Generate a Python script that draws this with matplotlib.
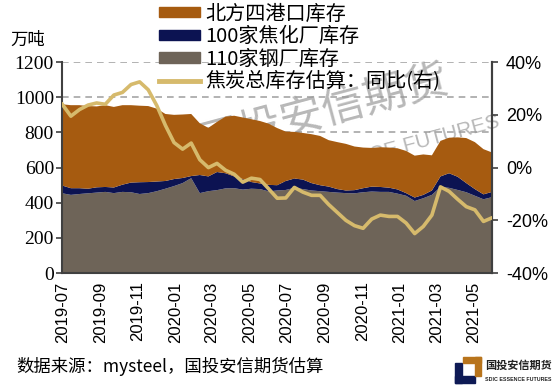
import numpy as np
import pandas as pd
import matplotlib
matplotlib.use('Agg')
import matplotlib.pyplot as plt
import matplotlib.dates as mdates
from matplotlib.patches import Patch, Rectangle
from matplotlib.lines import Line2D
from matplotlib.ticker import FuncFormatter

plt.rcParams['font.family'] = ['Noto Sans CJK SC', 'DejaVu Sans']

# biweekly dates
dates = pd.date_range('2019-07-01', periods=51, freq='14D')

# total stock (top of the stack), 万吨
total = [960, 955, 955, 950, 948, 955, 945, 955, 955, 952,
         950, 935, 905, 900, 902, 905, 852, 826, 860, 890,
         895, 885, 875, 865, 850, 825, 805, 803, 797, 790,
         780, 756, 745, 735, 720, 714, 712, 716, 714, 710,
         695, 668, 675, 670, 752, 770, 772, 768, 745, 705, 686]
# steel mills + coking plants
mills_coke = [498, 483, 483, 480, 488, 490, 487, 503, 515, 517,
              518, 521, 524, 535, 541, 552, 558, 550, 575, 568,
              550, 535, 518, 510, 502, 500, 524, 538, 532, 512,
              500, 492, 478, 470, 472, 483, 492, 490, 486, 476,
              455, 430, 445, 470, 550, 568, 548, 512, 478, 448, 462]
# 110 steel mills
mills = [454, 445, 450, 454, 458, 462, 455, 462, 460, 450,
         455, 466, 480, 495, 512, 540, 455, 466, 472, 482,
         483, 475, 480, 478, 465, 470, 473, 485, 478, 470,
         466, 462, 458, 455, 454, 460, 464, 462, 462, 452,
         440, 410, 426, 445, 490, 485, 473, 460, 440, 420, 432]
# total stock yoy, %
yoy = [24.0, 19.5, 22.0, 23.7, 24.5, 24.0, 27.5, 28.5, 31.5, 32.5,
       29.5, 23.5, 16.0, 9.5, 7.0, 9.3, 3.0, 0.0, 1.6, -1.0,
       -2.5, -5.5, -4.0, -4.5, -8.0, -11.6, -11.5, -7.5, -9.3, -10.5,
       -10.5, -14.0, -17.0, -20.0, -22.0, -23.0, -19.5, -18.0, -18.5, -18.5,
       -21.0, -25.0, -22.3, -18.0, -7.3, -9.0, -12.0, -14.8, -16.0, -20.4, -19.0]

mills = np.array(mills)
coke = np.array(mills_coke) - mills
port = np.array(total) - np.array(mills_coke)
yoy = np.array(yoy) / 100

c_port = '#A65B10'
c_coke = '#0C1352'
c_mill = '#6E6458'
c_line = '#D6BA6C'
c_axis = '#404040'

fig = plt.figure(figsize=(5.56, 3.88), dpi=100)
ax = fig.add_axes([0.112, 0.296, 0.773, 0.544])

# watermark, behind the data
ax.text(0.58, 0.712, '国投安信期货', transform=fig.transFigure, fontsize=31,
        color='#9A9A9A', alpha=0.7, rotation=15, ha='center', va='center', zorder=1)
ax.text(0.672, 0.6, 'SDIC ESSENCE FUTURES', transform=fig.transFigure, fontsize=15,
        color='#9A9A9A', alpha=0.7, rotation=15, ha='center', va='center',
        family='Liberation Sans', zorder=1)

ax.stackplot(dates, mills, coke, port, colors=[c_mill, c_coke, c_port], zorder=2)
ax.set_ylim(0, 1200)
ax.set_yticks(range(0, 1201, 200))
ax.set_xlim(dates[0], dates[-1])
ax.yaxis.grid(True, color='#A6A6A6', linestyle=(0, (4, 3)), linewidth=1.2, zorder=0)
ax.set_axisbelow(True)

ax.xaxis.set_major_locator(mdates.MonthLocator(bymonth=[1, 3, 5, 7, 9, 11]))
ax.xaxis.set_major_formatter(mdates.DateFormatter('%Y-%m'))
for lab in ax.get_xticklabels():
    lab.set_rotation(90)
    lab.set_family('Liberation Sans')
    lab.set_fontsize(12)
ax.tick_params(axis='x', length=0, pad=6)
for lab in ax.get_yticklabels():
    lab.set_family('Liberation Serif')
    lab.set_fontsize(14)
ax.tick_params(axis='y', length=4, width=1.2, color=c_axis, pad=2)

ax.spines['top'].set_visible(False)
for s in ['left', 'bottom', 'right']:
    ax.spines[s].set_color(c_axis)
    ax.spines[s].set_linewidth(1.5)

ax2 = ax.twinx()
ax2.plot(dates, yoy, color=c_line, linewidth=2.6, zorder=5)
ax2.set_ylim(-0.4, 0.4)
ax2.set_yticks([-0.4, -0.2, 0, 0.2, 0.4])
ax2.yaxis.set_major_formatter(FuncFormatter(lambda v, p: f'{v*100:.0f}%'))
for lab in ax2.get_yticklabels():
    lab.set_family('Liberation Sans')
    lab.set_fontsize(13)
ax2.tick_params(axis='y', length=4, width=1.2, color=c_axis, pad=6)
ax2.spines['top'].set_visible(False)
ax2.spines['right'].set_color(c_axis)
ax2.spines['right'].set_linewidth(1.5)
ax2.spines['left'].set_visible(False)
ax2.spines['bottom'].set_visible(False)

handles = [Patch(color=c_port), Patch(color=c_coke), Patch(color=c_mill),
           Line2D([], [], color=c_line, linewidth=3.5)]
labels = ['北方四港口库存', '100家焦化厂库存', '110家钢厂库存', '焦炭总库存估算：同比(右)']
fig.legend(handles, labels, loc='upper left', bbox_to_anchor=(0.272, 1.012),
           frameon=False, fontsize=14.5, handlelength=2.0, handleheight=0.4,
           handletextpad=0.3, labelspacing=0.08, borderaxespad=0)

fig.text(0.018, 0.885, '万吨', fontsize=12.5)

fig.text(0.03, 0.04, '数据来源：mysteel，国投安信期货估算', fontsize=12.5)

# logo
for (x, y, w, h, c) in [(0.818, 0.013, 0.0126, 0.0515, '#0E1A55'),
                        (0.818, 0.013, 0.036, 0.018, '#0E1A55'),
                        (0.833, 0.0644, 0.0324, 0.0155, '#B8741C'),
                        (0.854, 0.031, 0.0108, 0.049, '#B8741C')]:
    fig.patches.append(Rectangle((x, y), w, h, transform=fig.transFigure, color=c))
fig.text(0.872, 0.057, '国投安信期货', fontsize=8, fontweight='bold', color='#222222',
         va='center')
fig.text(0.872, 0.023, 'SDIC ESSENCE FUTURES', fontsize=3.8, color='#222222',
         family='Liberation Sans', fontweight='bold', va='center')

fig.savefig('out.png', dpi=100)
